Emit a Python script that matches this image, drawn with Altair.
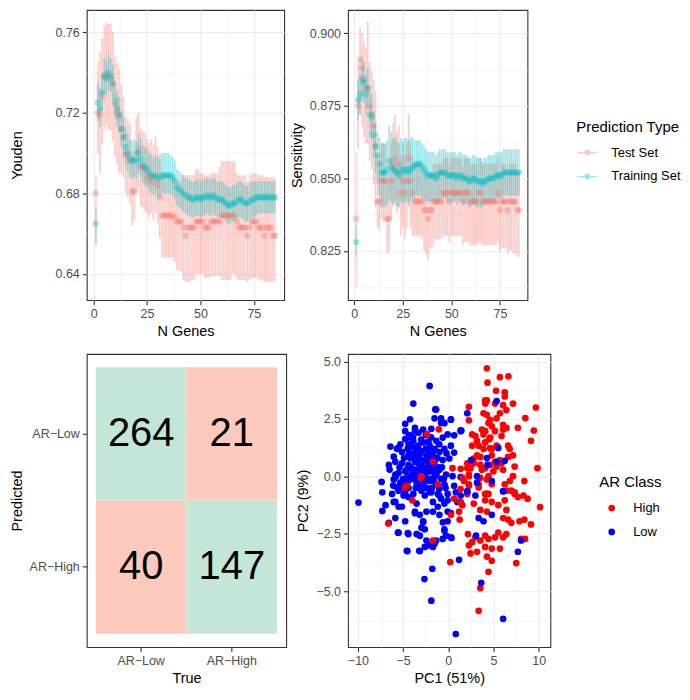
import altair as alt
import pandas as pd

FONT = "Liberation Sans"
PINK = "#F8766D"
CYAN = "#00BFC4"
GRID = "#EBEBEB"
DARK = "#333333"
LABEL = "#4D4D4D"
GREEN_TILE = "#C4E6D6"
RED_TILE = "#FCC9BC"

# ---------------- top panels data ----------------
n_genes = list(range(1, 86))
pred_types = ["Test Set", "Training Set"]

youden_test_mean = [
    0.680, 0.720, 0.719, 0.728, 0.738, 0.739, 0.738, 0.737, 0.734, 0.724,
    0.720, 0.718, 0.712, 0.708, 0.699, 0.699, 0.696, 0.681, 0.681, 0.700,
    0.702, 0.693, 0.693, 0.691, 0.688, 0.686, 0.688, 0.685, 0.689, 0.684,
    0.678, 0.669, 0.669, 0.669, 0.669, 0.669, 0.669, 0.668, 0.666, 0.666,
    0.666, 0.663, 0.659, 0.663, 0.663, 0.663, 0.663, 0.666, 0.666, 0.666,
    0.666, 0.663, 0.663, 0.663, 0.666, 0.666, 0.666, 0.666, 0.666, 0.669,
    0.669, 0.669, 0.669, 0.669, 0.669, 0.669, 0.666, 0.663, 0.663, 0.663,
    0.663, 0.659, 0.663, 0.666, 0.666, 0.666, 0.663, 0.663, 0.663, 0.659,
    0.663, 0.663, 0.663, 0.659, 0.659]
youden_test_lo = [
    0.654, 0.700, 0.690, 0.705, 0.712, 0.714, 0.712, 0.711, 0.706, 0.698,
    0.694, 0.690, 0.690, 0.688, 0.680, 0.678, 0.675, 0.664, 0.667, 0.680,
    0.682, 0.674, 0.673, 0.671, 0.670, 0.668, 0.670, 0.667, 0.670, 0.665,
    0.658, 0.648, 0.648, 0.648, 0.648, 0.648, 0.648, 0.646, 0.642, 0.642,
    0.641, 0.637, 0.636, 0.636, 0.636, 0.637, 0.637, 0.640, 0.640, 0.640,
    0.640, 0.638, 0.638, 0.638, 0.639, 0.639, 0.639, 0.639, 0.639, 0.637,
    0.637, 0.637, 0.637, 0.637, 0.640, 0.640, 0.638, 0.637, 0.637, 0.637,
    0.637, 0.636, 0.637, 0.638, 0.638, 0.638, 0.637, 0.637, 0.637, 0.636,
    0.636, 0.636, 0.636, 0.636, 0.636]
youden_test_hi = [
    0.689, 0.745, 0.750, 0.757, 0.763, 0.765, 0.764, 0.764, 0.760, 0.748,
    0.745, 0.742, 0.734, 0.728, 0.718, 0.717, 0.715, 0.700, 0.698, 0.718,
    0.720, 0.712, 0.711, 0.710, 0.707, 0.705, 0.707, 0.704, 0.708, 0.703,
    0.697, 0.689, 0.689, 0.689, 0.689, 0.689, 0.689, 0.688, 0.686, 0.686,
    0.686, 0.689, 0.689, 0.689, 0.689, 0.689, 0.689, 0.692, 0.692, 0.690,
    0.690, 0.689, 0.689, 0.689, 0.690, 0.690, 0.690, 0.690, 0.693, 0.696,
    0.696, 0.696, 0.696, 0.696, 0.696, 0.696, 0.690, 0.689, 0.689, 0.689,
    0.689, 0.686, 0.689, 0.690, 0.690, 0.690, 0.689, 0.689, 0.689, 0.688,
    0.688, 0.688, 0.688, 0.688, 0.688]
youden_train_mean = [
    0.665, 0.725, 0.722, 0.730, 0.738, 0.737, 0.740, 0.738, 0.735, 0.726,
    0.722, 0.719, 0.712, 0.708, 0.703, 0.700, 0.697, 0.696, 0.697, 0.696,
    0.700, 0.697, 0.694, 0.693, 0.692, 0.690, 0.689, 0.688, 0.689, 0.687,
    0.688, 0.689, 0.689, 0.689, 0.689, 0.689, 0.688, 0.686, 0.683, 0.682,
    0.681, 0.680, 0.679, 0.678, 0.678, 0.677, 0.677, 0.678, 0.678, 0.677,
    0.678, 0.678, 0.679, 0.678, 0.678, 0.679, 0.678, 0.677, 0.677, 0.677,
    0.676, 0.675, 0.674, 0.674, 0.675, 0.675, 0.676, 0.677, 0.677, 0.676,
    0.675, 0.675, 0.676, 0.677, 0.677, 0.678, 0.678, 0.678, 0.678, 0.678,
    0.678, 0.678, 0.678, 0.678, 0.678]
youden_train_lo = [
    0.655, 0.716, 0.713, 0.721, 0.729, 0.729, 0.731, 0.730, 0.727, 0.717,
    0.713, 0.710, 0.703, 0.699, 0.694, 0.691, 0.688, 0.687, 0.688, 0.687,
    0.690, 0.688, 0.685, 0.684, 0.683, 0.681, 0.680, 0.679, 0.680, 0.678,
    0.679, 0.680, 0.680, 0.680, 0.680, 0.680, 0.679, 0.677, 0.674, 0.673,
    0.672, 0.671, 0.670, 0.669, 0.669, 0.668, 0.668, 0.669, 0.669, 0.668,
    0.669, 0.669, 0.670, 0.669, 0.669, 0.670, 0.669, 0.668, 0.668, 0.668,
    0.667, 0.666, 0.665, 0.665, 0.666, 0.666, 0.667, 0.668, 0.668, 0.667,
    0.666, 0.666, 0.667, 0.668, 0.668, 0.669, 0.670, 0.670, 0.670, 0.670,
    0.670, 0.670, 0.670, 0.670, 0.670]
youden_train_hi = [
    0.673, 0.735, 0.732, 0.740, 0.747, 0.746, 0.749, 0.747, 0.744, 0.735,
    0.731, 0.728, 0.721, 0.718, 0.713, 0.710, 0.707, 0.706, 0.707, 0.706,
    0.710, 0.707, 0.704, 0.703, 0.702, 0.700, 0.699, 0.698, 0.699, 0.698,
    0.699, 0.700, 0.700, 0.700, 0.700, 0.699, 0.698, 0.696, 0.692, 0.691,
    0.690, 0.689, 0.688, 0.687, 0.687, 0.686, 0.686, 0.687, 0.687, 0.686,
    0.687, 0.687, 0.688, 0.687, 0.687, 0.688, 0.687, 0.686, 0.686, 0.686,
    0.685, 0.684, 0.683, 0.683, 0.684, 0.684, 0.685, 0.686, 0.686, 0.685,
    0.684, 0.684, 0.685, 0.686, 0.686, 0.686, 0.686, 0.686, 0.686, 0.686,
    0.686, 0.686, 0.686, 0.686, 0.686]

sens_test_mean = [
    0.836, 0.875, 0.891, 0.888, 0.884, 0.881, 0.881, 0.875, 0.872, 0.868,
    0.861, 0.842, 0.842, 0.849, 0.849, 0.849, 0.836, 0.836, 0.849, 0.855,
    0.857, 0.852, 0.855, 0.845, 0.849, 0.845, 0.849, 0.857, 0.849, 0.845,
    0.842, 0.842, 0.842, 0.842, 0.842, 0.839, 0.839, 0.836, 0.839, 0.839,
    0.842, 0.842, 0.842, 0.842, 0.842, 0.845, 0.845, 0.845, 0.842, 0.845,
    0.845, 0.845, 0.845, 0.845, 0.845, 0.842, 0.845, 0.845, 0.845, 0.842,
    0.842, 0.842, 0.842, 0.845, 0.845, 0.842, 0.842, 0.842, 0.842, 0.842,
    0.842, 0.842, 0.842, 0.845, 0.839, 0.842, 0.842, 0.842, 0.839, 0.842,
    0.842, 0.842, 0.842, 0.839, 0.839]
sens_test_lo = [
    0.812, 0.860, 0.872, 0.868, 0.864, 0.862, 0.862, 0.856, 0.853, 0.848,
    0.840, 0.833, 0.832, 0.836, 0.835, 0.835, 0.824, 0.825, 0.836, 0.840,
    0.842, 0.838, 0.840, 0.830, 0.833, 0.829, 0.833, 0.840, 0.833, 0.830,
    0.830, 0.830, 0.830, 0.830, 0.829, 0.825, 0.824, 0.822, 0.826, 0.826,
    0.828, 0.829, 0.829, 0.829, 0.829, 0.830, 0.830, 0.830, 0.828, 0.830,
    0.830, 0.830, 0.830, 0.830, 0.830, 0.827, 0.828, 0.828, 0.828, 0.827,
    0.827, 0.827, 0.827, 0.828, 0.828, 0.827, 0.827, 0.827, 0.827, 0.827,
    0.827, 0.827, 0.827, 0.828, 0.825, 0.826, 0.826, 0.826, 0.824, 0.825,
    0.825, 0.824, 0.824, 0.823, 0.823]
sens_test_hi = [
    0.859, 0.890, 0.902, 0.900, 0.897, 0.895, 0.904, 0.890, 0.887, 0.884,
    0.880, 0.858, 0.856, 0.862, 0.862, 0.862, 0.850, 0.852, 0.862, 0.869,
    0.872, 0.866, 0.868, 0.858, 0.862, 0.858, 0.862, 0.872, 0.862, 0.858,
    0.855, 0.855, 0.855, 0.855, 0.854, 0.852, 0.852, 0.850, 0.852, 0.852,
    0.855, 0.855, 0.855, 0.855, 0.855, 0.857, 0.857, 0.857, 0.855, 0.857,
    0.857, 0.857, 0.857, 0.857, 0.857, 0.854, 0.857, 0.857, 0.857, 0.855,
    0.855, 0.855, 0.855, 0.857, 0.857, 0.855, 0.855, 0.855, 0.855, 0.855,
    0.855, 0.855, 0.855, 0.857, 0.852, 0.855, 0.855, 0.855, 0.852, 0.855,
    0.855, 0.855, 0.855, 0.852, 0.852]
sens_train_mean = [
    0.828, 0.877, 0.879, 0.884, 0.883, 0.879, 0.881, 0.872, 0.871, 0.865,
    0.861, 0.858, 0.855, 0.852, 0.852, 0.852, 0.853, 0.856, 0.854, 0.853,
    0.853, 0.852, 0.851, 0.853, 0.852, 0.853, 0.853, 0.852, 0.853, 0.854,
    0.854, 0.855, 0.855, 0.855, 0.854, 0.853, 0.852, 0.851, 0.851, 0.851,
    0.851, 0.850, 0.851, 0.852, 0.852, 0.852, 0.852, 0.851, 0.851, 0.851,
    0.851, 0.851, 0.850, 0.851, 0.851, 0.850, 0.850, 0.850, 0.849, 0.849,
    0.850, 0.850, 0.849, 0.849, 0.849, 0.848, 0.849, 0.849, 0.850, 0.850,
    0.850, 0.850, 0.851, 0.851, 0.851, 0.851, 0.852, 0.852, 0.852, 0.852,
    0.852, 0.852, 0.852, 0.852, 0.852]
sens_train_lo = [
    0.823, 0.870, 0.872, 0.877, 0.876, 0.872, 0.874, 0.864, 0.863, 0.857,
    0.852, 0.848, 0.844, 0.840, 0.840, 0.840, 0.841, 0.843, 0.842, 0.841,
    0.841, 0.840, 0.840, 0.842, 0.841, 0.842, 0.842, 0.841, 0.842, 0.843,
    0.843, 0.844, 0.844, 0.844, 0.843, 0.843, 0.842, 0.842, 0.842, 0.842,
    0.842, 0.841, 0.842, 0.843, 0.843, 0.843, 0.843, 0.842, 0.842, 0.842,
    0.842, 0.842, 0.841, 0.842, 0.842, 0.841, 0.841, 0.841, 0.840, 0.840,
    0.841, 0.841, 0.840, 0.840, 0.840, 0.840, 0.841, 0.841, 0.842, 0.842,
    0.842, 0.842, 0.843, 0.843, 0.843, 0.843, 0.844, 0.844, 0.844, 0.844,
    0.844, 0.844, 0.844, 0.844, 0.844]
sens_train_hi = [
    0.834, 0.884, 0.886, 0.891, 0.890, 0.886, 0.888, 0.880, 0.879, 0.873,
    0.869, 0.866, 0.864, 0.862, 0.862, 0.862, 0.863, 0.868, 0.866, 0.864,
    0.864, 0.863, 0.862, 0.864, 0.863, 0.864, 0.864, 0.863, 0.864, 0.864,
    0.863, 0.863, 0.863, 0.863, 0.862, 0.861, 0.860, 0.859, 0.859, 0.859,
    0.859, 0.858, 0.859, 0.860, 0.860, 0.860, 0.860, 0.859, 0.859, 0.859,
    0.859, 0.859, 0.858, 0.859, 0.859, 0.858, 0.858, 0.858, 0.857, 0.857,
    0.858, 0.858, 0.857, 0.857, 0.857, 0.856, 0.857, 0.857, 0.858, 0.858,
    0.858, 0.858, 0.859, 0.859, 0.859, 0.859, 0.860, 0.860, 0.860, 0.860,
    0.860, 0.860, 0.860, 0.860, 0.860]

# ---------------- confusion matrix data ----------------
cm_labels = ["AR\u2212Low", "AR\u2212High"]
cm_true = ["AR\u2212Low", "AR\u2212High", "AR\u2212Low", "AR\u2212High"]
cm_pred = ["AR\u2212Low", "AR\u2212Low", "AR\u2212High", "AR\u2212High"]
cm_count = [264, 21, 40, 147]

# ---------------- PCA data ----------------
pca_low = [
    (-2.06, 3.94), (-3.87, 3.17), (-1.34, 2.91), (-1.52, 2.53), (-4.23, 2.49), (-3.69, 2.11),
    (-2.78, 2.04), (-4.77, 1.97), (-1.88, 2.07), (-0.80, 2.53), (-0.43, 2.32), (0.29, 2.49),
    (1.37, 1.97), (0.65, 1.79), (-5.68, 1.20), (-4.77, 1.62), (-4.41, 1.41), (-3.87, 1.55),
    (-3.33, 1.34), (-2.78, 1.48), (-2.06, 1.34), (-1.34, 1.55), (-0.62, 1.69), (-0.07, 1.83),
    (-5.13, 1.06), (-4.41, 0.92), (-3.69, 1.06), (-3.15, 0.99), (-2.42, 0.92), (-1.70, 0.99),
    (-0.98, 1.06), (-0.43, 1.20), (0.29, 1.34), (-5.86, 0.64), (-5.13, 0.57), (-4.41, 0.50),
    (-3.69, 0.64), (-2.97, 0.50), (-2.24, 0.57), (-1.52, 0.64), (-0.62, 0.71), (0.11, 0.78),
    (0.65, 1.04), (-5.50, 0.15), (-4.77, 0.22), (-4.05, 0.08), (-3.33, 0.15), (-2.60, 0.15),
    (-1.88, 0.22), (-0.98, 0.29), (-0.25, 0.08), (0.47, 0.01), (1.37, -0.03), (-6.04, -0.13),
    (-5.32, -0.27), (-4.41, -0.20), (-3.51, -0.27), (-2.78, -0.34), (-2.06, -0.20), (-1.34, -0.34),
    (-0.43, -0.34), (0.65, -0.41), (-6.22, -0.76), (-5.50, -0.62), (-4.77, -0.69), (-3.87, -0.76),
    (-2.97, -0.62), (-2.06, -0.69), (-1.16, -0.76), (-0.07, -0.76), (0.83, -0.69),
    (-4.5, 1.2), (-4.0, 1.3), (-3.5, 1.2), (-3.0, 1.1), (-2.5, 1.2), (-2.0, 1.1), (-1.5, 1.2),
    (-4.2, 0.8), (-3.7, 0.9), (-3.2, 0.8), (-2.7, 0.7), (-2.2, 0.8), (-1.7, 0.9), (-1.2, 0.8),
    (-4.6, 0.3), (-4.1, 0.4), (-3.6, 0.3), (-3.1, 0.4), (-2.6, 0.35), (-2.1, 0.4), (-1.6, 0.3),
    (-1.1, 0.4), (-5.0, -0.1), (-4.5, 0.0), (-4.0, -0.1), (-3.5, -0.05), (-3.0, -0.1), (-2.5, -0.05),
    (-2.0, -0.1), (-1.5, 0.0), (-0.8, -0.1), (-5.2, -0.45), (-4.4, -0.5), (-3.6, -0.5), (-3.1, -0.45),
    (-2.4, -0.5), (-1.8, -0.5), (-1.0, -0.55), (-0.3, -0.5), (-3.9, 1.7), (-3.3, 1.9), (-2.5, 1.8),
    (-1.9, 1.7), (-5.4, 0.4), (-5.8, 0.0), (-6.5, 0.3), (-6.1, -0.4), (-4.9, 0.8), (-4.3, 1.0),
    (-3.9, 0.2), (-3.4, 0.6), (-2.9, 0.3), (-2.3, 0.2), (-1.8, 0.5), (-1.3, 0.1), (-0.7, 0.4),
    (-3.4, -0.3), (-2.6, -0.2), (-4.3, 1.8), (-3.0, 1.6), (-2.2, 1.5), (-1.0, 1.4), (-0.2, 1.0),
    (-5.3, 1.4), (-4.7, -0.3), (-1.6, -0.2), (-0.5, -0.1),
    (-6.04, 0.86), (-6.58, 0.50), (-5.86, 0.08), (-5.68, -0.48), (-4.95, -0.83), (-4.41, -0.90),
    (-5.86, -1.11), (-5.13, -1.32), (-3.51, -1.18), (-2.60, -0.83), (-1.88, -0.69), (-0.98, -0.83),
    (-0.43, -1.18), (-0.98, -1.67), (-1.70, -1.53), (-3.69, -1.60), (-2.78, -1.95), (-2.60, -2.30),
    (-3.51, -2.51), (-0.43, -2.37), (-0.60, -2.00), (0.29, -1.60),
    (-9.94, -1.14), (-7.38, -0.24), (-7.30, -0.69), (-7.30, -1.50), (-6.94, -1.25), (-6.58, -2.02),
    (-6.40, 1.30), (-5.50, 1.25), (-4.77, 2.29), (-1.45, 2.92), (0.29, 2.47), (1.37, 2.01),
    (-0.80, 2.33), (-4.41, 1.70), (-3.69, 1.98),
    (-6.04, -1.11), (-5.50, -1.32), (-5.86, -1.81), (-4.77, -1.95), (-5.50, -2.44), (-4.41, -2.51),
    (-4.59, -3.24), (-3.69, -1.53), (-3.15, -1.67), (-2.42, -1.53), (-2.78, -2.00), (-2.97, -2.23),
    (-3.15, -2.58), (-2.42, -2.79), (-2.06, -3.00), (-2.60, -3.07), (-1.52, -2.93), (-1.34, -2.79),
    (-0.43, -2.30), (-0.62, -2.72), (-0.25, -2.58), (0.29, -2.65), (-0.07, -1.95), (-1.70, -1.11),
    (-1.16, -1.32), (-0.80, -0.97), (-0.07, -1.04), (-3.22, -3.24), (-0.07, -1.53), (1.37, -0.83),
    (1.01, -1.11), (-5.57, -2.45), (-4.48, -2.47), (-4.52, -3.25), (-3.15, -3.25), (-1.70, -3.07),
    (0.36, -2.68), (1.19, -3.63), (-1.77, -4.02), (-2.64, -4.47), (-1.88, -5.41), (0.83, -6.86),
]
pca_high = [
    (4.27, 4.71), (4.34, 4.08), (5.71, 4.32), (6.65, 4.36), (5.28, 3.73), (6.25, 3.66), (6.25, 3.48),
    (4.27, 3.31), (4.09, 3.17), (3.90, 2.75), (4.27, 2.68), (2.28, 3.03), (2.28, 2.44), (5.17, 3.17),
    (6.07, 3.10), (6.43, 2.89), (7.16, 3.17), (5.71, 2.75), (9.69, 3.00), (4.63, 2.46), (5.35, 2.53),
    (6.07, 2.25), (4.81, 2.18), (5.17, 1.97), (4.09, 1.97), (3.72, 2.04), (8.53, 2.54), (7.70, 2.12),
    (9.47, 2.00), (9.15, 1.55), (6.43, 2.11), (6.07, 2.04), (5.89, 1.76), (4.55, 1.62), (3.90, 1.83),
    (3.18, 1.55), (3.36, 1.34), (3.90, 1.20), (4.63, 1.23), (5.35, 1.34), (6.62, 1.34), (6.80, 1.20),
    (2.64, 1.83), (2.82, 0.78), (3.54, 0.85), (4.81, 0.92), (5.17, 0.64), (5.71, 0.71), (7.16, 0.92),
    (6.62, 0.85), (9.87, 0.36), (5.89, 0.57), (4.63, 0.50), (4.09, 0.36), (5.35, 0.43), (4.99, 0.22),
    (6.07, 0.29), (7.34, 0.43), (8.42, -0.20), (7.16, 0.01), (6.80, -0.20), (6.25, -0.34), (6.43, -0.62),
    (6.98, -0.62), (7.34, -0.76), (2.10, 0.57), (2.46, 0.36), (1.55, -0.06), (2.28, 0.08), (1.37, -0.55),
    (3.54, -0.06), (4.27, -0.13), (3.36, -0.34), (8.32, -0.83), (4.27, -0.76), (2.28, -0.34), (2.10, -0.76),
    (0.65, -0.97), (1.37, -1.11), (1.55, -1.25), (1.19, -1.53), (1.26, -1.88), (0.29, -1.67), (2.82, -1.18),
    (3.54, -1.46), (4.08, -1.04), (4.45, -0.76), (4.81, -1.11), (4.27, -1.53), (5.53, -1.25), (6.25, -1.04),
    (6.43, -1.46), (6.07, -1.81), (6.62, -1.88), (6.98, -2.02), (7.34, -0.69), (7.70, -0.90), (8.78, -0.97),
    (10.16, -1.34), (7.88, -1.95), (8.42, -1.88), (9.15, -2.09), (8.06, -2.72), (8.50, -2.72), (5.53, -2.44),
    (6.07, -2.65), (6.43, -2.51), (5.17, -2.65), (4.45, -2.72), (4.08, -2.58), (3.54, -2.79), (3.00, -2.65),
    (2.64, -2.86), (2.28, -3.00), (2.46, -3.35), (3.18, -3.28), (4.08, -3.07), (4.81, -3.14), (5.71, -3.14),
    (2.17, -2.51), (4.27, -3.49), (4.81, -3.67), (4.45, -4.15), (7.52, -3.77), (0.22, -3.73), (3.54, -4.86),
    (3.36, -5.85), (4.08, 3.31), (4.45, 2.33), (3.90, 1.97), (3.00, 1.76), (2.64, 1.34), (3.18, 0.92),
    (4.08, 1.48), (4.63, 1.69), (4.81, 1.20), (2.82, 0.57), (3.54, 0.50), (2.10, 0.36), (1.37, 0.33),
    (2.28, 0.01), (1.73, -0.20), (3.72, 0.29), (4.45, 0.01), (4.81, -0.34), (3.36, -0.48), (4.08, -0.76),
    (2.28, -0.41), (-1.05, 2.05), (-2.35, 1.84), (-1.70, 0.65), (-4.59, -0.41), (-1.16, -0.34), (0.47, 0.36),
    (-2.97, 0.01), (-3.98, -1.04), (-6.65, -2.05), (-4.77, -0.48), (-3.04, -0.06), (-1.70, -2.79),
]
pca_low_in_high = [
    (2.10, -0.64), (3.00, -0.83), (6.07, -0.64), (4.81, -1.67), (3.36, -1.81), (3.90, -1.95),
    (3.07, -2.58), (8.06, -2.79), (7.70, -3.28), (3.65, -4.63), (6.07, -6.20), (5.35, 3.28),
    (2.10, 2.75), (1.45, 2.00), (5.53, 1.24), (2.53, 0.71), (4.27, 0.80), (4.34, 0.50), (6.25, 0.68),
    (4.81, -0.20), (3.18, -0.27), (6.07, -0.65), (2.10, -0.66), (3.18, 0.01), (5.35, 0.64),
]

# ---------------- helpers ----------------
def major_axis(title, values, fmt, title_pad=4):
    return alt.Axis(
        title=title, values=values, format=fmt, grid=True, gridColor=GRID, gridWidth=1.1,
        domain=False, ticks=True, tickColor=DARK, tickSize=4.5, tickWidth=1.1,
        labelFont=FONT, labelFontSize=12.5, labelColor=LABEL, labelPadding=3, labelFlush=False,
        titleFont=FONT, titleFontSize=14.5, titleFontWeight="normal", titleColor="black",
        titlePadding=title_pad,
    )


def minor_axis(values, orient):
    return alt.Axis(
        values=values, grid=True, gridColor=GRID, gridWidth=0.55, labels=False, ticks=False,
        domain=False, title=None, orient=orient,
    )


def metric_df(t_mean, t_lo, t_hi, r_mean, r_lo, r_hi):
    rows = []
    for i, n in enumerate(n_genes):
        rows.append({"N": n, "Type": pred_types[0], "mean": t_mean[i], "lo": t_lo[i], "hi": t_hi[i]})
    for i, n in enumerate(n_genes):
        rows.append({"N": n, "Type": pred_types[1], "mean": r_mean[i], "lo": r_lo[i], "hi": r_hi[i]})
    return pd.DataFrame(rows)


KEY_PATH = ("M-1,-0.06H-0.3V0.06H-1Z M0.3,-0.06H1V0.06H0.3Z "
            "M-0.3,0A0.3,0.3 0 1,1 0.3,0A0.3,0.3 0 1,1 -0.3,0Z")


def metric_panel(df, ytitle, ydomain, yvals, yfmt, yminor, w, h, ytitle_pad, legend):
    xs = alt.Scale(domain=[-3.2, 89.2], nice=False, zero=False)
    ys = alt.Scale(domain=ydomain, nice=False, zero=False)
    cs = alt.Scale(domain=pred_types, range=[PINK, CYAN])
    base = alt.Chart(df)
    ribbon = base.mark_area(interpolate="step", opacity=0.2).encode(
        x=alt.X("N:Q", scale=xs, axis=major_axis("N Genes", [0, 25, 50, 75], "d")),
        y=alt.Y("lo:Q", scale=ys, axis=major_axis(ytitle, yvals, yfmt, ytitle_pad), stack=None),
        y2="hi:Q",
        color=alt.Color("Type:N", scale=cs, legend=legend),
    )
    bars = base.mark_rule(opacity=0.28, strokeWidth=1).encode(
        x=alt.X("N:Q", scale=xs, axis=minor_axis([12.5, 37.5, 62.5, 87.5], "top")),
        y=alt.Y("lo:Q", scale=ys, axis=minor_axis(yminor, "right")),
        y2="hi:Q",
        color=alt.Color("Type:N", scale=cs, legend=legend),
    )
    pts = base.mark_circle(size=38, opacity=0.38).encode(
        x=alt.X("N:Q", scale=xs, axis=None),
        y=alt.Y("mean:Q", scale=ys, axis=None),
        color=alt.Color("Type:N", scale=cs, legend=legend),
    )
    return (alt.layer(ribbon, bars, pts)
            .resolve_axis(x="independent", y="independent")
            .properties(width=w, height=h))


# ---------------- panels ----------------
H1, H2 = 291, 294

youden_df = metric_df(youden_test_mean, youden_test_lo, youden_test_hi,
                      youden_train_mean, youden_train_lo, youden_train_hi)
sens_df = metric_df(sens_test_mean, sens_test_lo, sens_test_hi,
                    sens_train_mean, sens_train_lo, sens_train_hi)

youden = metric_panel(youden_df, "Youden", [0.627, 0.771], [0.64, 0.68, 0.72, 0.76], ".2f",
                      [0.66, 0.70, 0.74], 198, H1, 31, None)

pred_legend = alt.Legend(
    title="Prediction Type", orient="none", legendX=229, legendY=110,
    symbolType=KEY_PATH, symbolSize=400, symbolOpacity=0.4, symbolStrokeWidth=0,
    symbolFillColor=PINK, symbolOffset=1, labelOffset=14, rowPadding=7, titlePadding=8, padding=0,
    titleFont=FONT, titleFontSize=15, titleFontWeight="normal", titleColor="black",
    labelFont=FONT, labelFontSize=13, labelColor="black",
)
sens = metric_panel(sens_df, "Sensitivity", [0.808, 0.908], [0.825, 0.85, 0.875, 0.9], ".3f",
                    [0.8125, 0.8375, 0.8625, 0.8875], 180, H1, 5, pred_legend)

cm_df = pd.DataFrame({
    "True": cm_true, "Predicted": cm_pred, "Count": cm_count,
    "Outcome": ["correct" if t == p else "wrong" for t, p in zip(cm_true, cm_pred)],
})
band = alt.Scale(paddingInner=0, paddingOuter=0.1)
band_y = alt.Scale(paddingInner=0, paddingOuter=0.1)
cm_xaxis = alt.Axis(title="True", grid=False, domain=False, tickColor=DARK, tickSize=4.5, tickWidth=1.1,
                    labelFont=FONT, labelFontSize=12.5, labelColor=LABEL, labelPadding=3, labelAngle=0,
                    titleFont=FONT, titleFontSize=14.5, titleFontWeight="normal", titleColor="black",
                    titlePadding=4, bandPosition=0.5)
cm_yaxis = alt.Axis(title="Predicted", grid=False, domain=False, tickColor=DARK, tickSize=4.5, tickWidth=1.1,
                    labelFont=FONT, labelFontSize=12.5, labelColor=LABEL, labelPadding=3,
                    titleFont=FONT, titleFontSize=14.5, titleFontWeight="normal", titleColor="black",
                    titlePadding=5, bandPosition=0.5)
cm_base = alt.Chart(cm_df)
tiles = cm_base.mark_rect().encode(
    x=alt.X("True:N", sort=cm_labels, scale=band, axis=cm_xaxis),
    y=alt.Y("Predicted:N", sort=cm_labels, scale=band_y, axis=cm_yaxis),
    color=alt.Color("Outcome:N", scale=alt.Scale(domain=["correct", "wrong"], range=[GREEN_TILE, RED_TILE]),
                    legend=None),
)
counts = cm_base.mark_text(font=FONT, fontSize=40, color="black", align="center", baseline="middle").encode(
    x=alt.X("True:N", sort=cm_labels),
    y=alt.Y("Predicted:N", sort=cm_labels),
    text="Count:Q",
)
cm_chart = alt.layer(tiles, counts).properties(width=200, height=H2)

pca_rows = ([{"PC1": a, "PC2": b, "Class": "Low"} for a, b in pca_low]
            + [{"PC1": a, "PC2": b, "Class": "High"} for a, b in pca_high]
            + [{"PC1": a, "PC2": b, "Class": "Low"} for a, b in pca_low_in_high])
pca_df = pd.DataFrame(pca_rows)
sx = alt.Scale(domain=[-11.1, 11.3], nice=False, zero=False)
sy = alt.Scale(domain=[-7.43, 5.33], nice=False, zero=False)
cls = alt.Scale(domain=["High", "Low"], range=["#FF0000", "#0000FF"])
ar_legend = alt.Legend(
    title="AR Class", orient="none", legendX=252, legendY=121,
    symbolType="circle", symbolSize=45, symbolOpacity=1, symbolStrokeWidth=0,
    symbolOffset=6, labelOffset=15, rowPadding=10, titlePadding=12, padding=0,
    titleFont=FONT, titleFontSize=15, titleFontWeight="normal", titleColor="black",
    labelFont=FONT, labelFontSize=13, labelColor="black",
)
pca_grid = alt.Chart(pca_df).mark_circle(opacity=0).encode(
    x=alt.X("PC1:Q", scale=sx, axis=minor_axis([-7.5, -2.5, 2.5, 7.5], "top")),
    y=alt.Y("PC2:Q", scale=sy, axis=minor_axis([-6.25, -3.75, -1.25, 1.25, 3.75], "right")),
)
pca_pts = alt.Chart(pca_df).mark_circle(size=45, opacity=1).encode(
    x=alt.X("PC1:Q", scale=sx, axis=major_axis("PC1 (51%)", [-10, -5, 0, 5, 10], "d")),
    y=alt.Y("PC2:Q", scale=sy, axis=major_axis("PC2 (9%)", [-5, -2.5, 0, 2.5, 5], ".1f", 5)),
    color=alt.Color("Class:N", scale=cls, legend=ar_legend),
)
pca_chart = (alt.layer(pca_grid, pca_pts)
             .resolve_axis(x="independent", y="independent")
             .properties(width=203, height=H2))

chart = alt.concat(
    youden, sens, cm_chart, pca_chart,
    columns=2, spacing=alt.RowColnumber(row=54, column=62), bounds="flush", align="each",
).resolve_scale(color="independent").resolve_legend(color="independent").properties(
    padding=0, background="white"
).configure(font=FONT).configure_view(stroke=DARK, strokeWidth=1.1)

chart.save("out.html", embed_options={"renderer": "svg", "actions": False})
